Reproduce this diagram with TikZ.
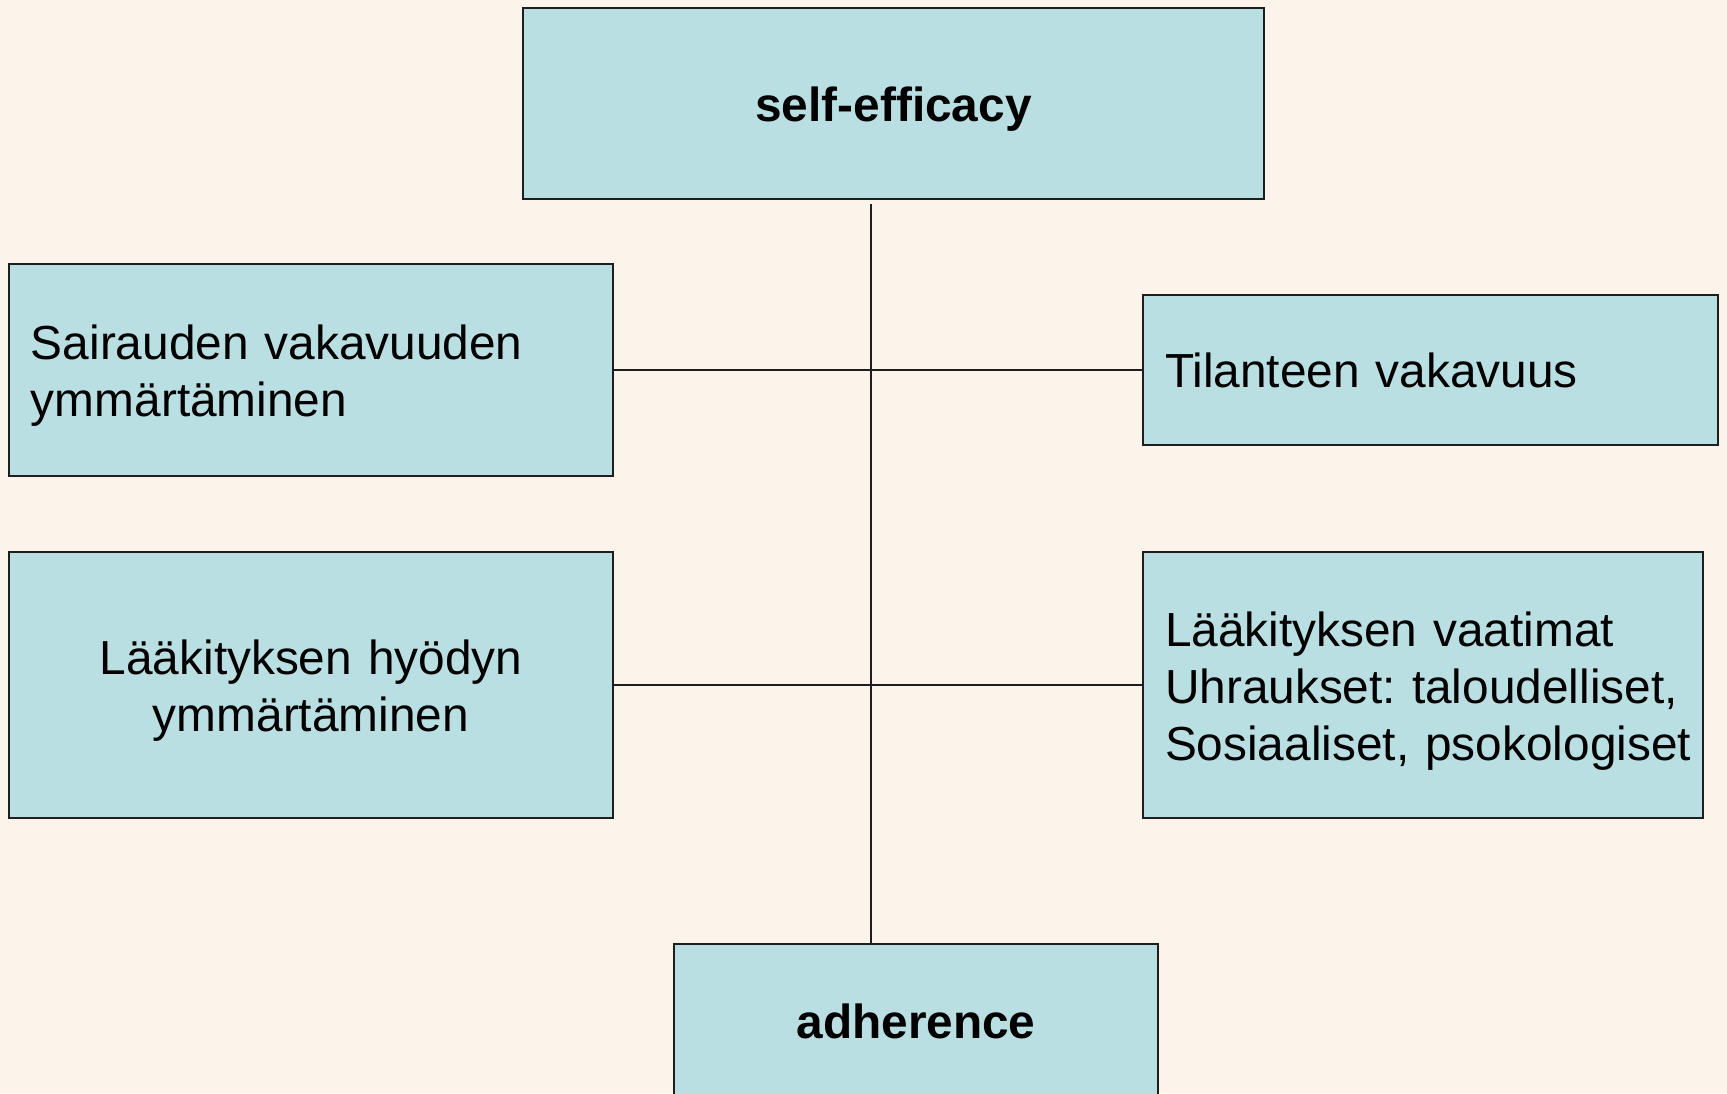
\documentclass[tikz,border=0pt]{standalone}
\usepackage{fontspec}
\setmainfont{Liberation Sans}
\usepackage{tikz}
\usepackage{xcolor}
\definecolor{taustaC}{RGB}{252,243,234}
\definecolor{laatikkoC}{RGB}{186,223,226}
\definecolor{reunaC}{RGB}{30,30,30}
\frenchspacing
\tikzset{laatikko/.style={draw=reunaC, line width=0.6pt, fill=laatikkoC, rectangle, font=\fontsize{13.6}{16.2}\selectfont},
  alas/.style={text height=13.3pt},
  viiva/.style={draw=reunaC, line width=0.6pt}}

\begin{document}
\begin{tikzpicture}
\clip (0,0) rectangle (17.27,10.93);
\fill[taustaC] (0,0) rectangle (17.27,10.93);
\node (self) at (8.935,9.895) [laatikko, alas, minimum width=7.41cm, minimum height=1.91cm, font=\fontsize{13.6}{16.2}\selectfont\bfseries]{self-efficacy};
\node (sair) at (3.11,7.23) [laatikko, alas, minimum height=2.12cm, inner xsep=0.22cm, text width=5.6cm, align=left]{Sairauden vakavuuden\\ymmärtäminen};
\node (tilan) at (14.305,7.23) [laatikko, minimum height=1.50cm, inner xsep=0.22cm, text width=5.31cm, align=left]{Tilanteen vakavuus};
\node (hyoty) at (3.11,4.08) [laatikko, alas, minimum height=2.66cm, inner xsep=0.22cm, text width=5.6cm, align=center]{Lääkityksen hyödyn\\ymmärtäminen};
\node (uhr) at (14.23,4.08) [laatikko, alas, minimum height=2.66cm, inner xsep=0.22cm, text width=5.16cm, align=left]{\mbox{Lääkityksen vaatimat}\\\mbox{Uhraukset: taloudelliset,}\\\mbox{Sosiaaliset, psokologiset}};
\node (adh) at (9.16,0.72) [laatikko, minimum width=4.84cm, minimum height=1.54cm, font=\fontsize{13.6}{16.2}\selectfont\bfseries]{adherence};
\coordinate (ylos) at (8.71,8.89);
\draw[viiva] (ylos) -- (ylos |- adh.north);
\draw[viiva] (sair.east) -- (tilan.west);
\draw[viiva] (hyoty.east) -- (uhr.west);
\end{tikzpicture}
\end{document}
